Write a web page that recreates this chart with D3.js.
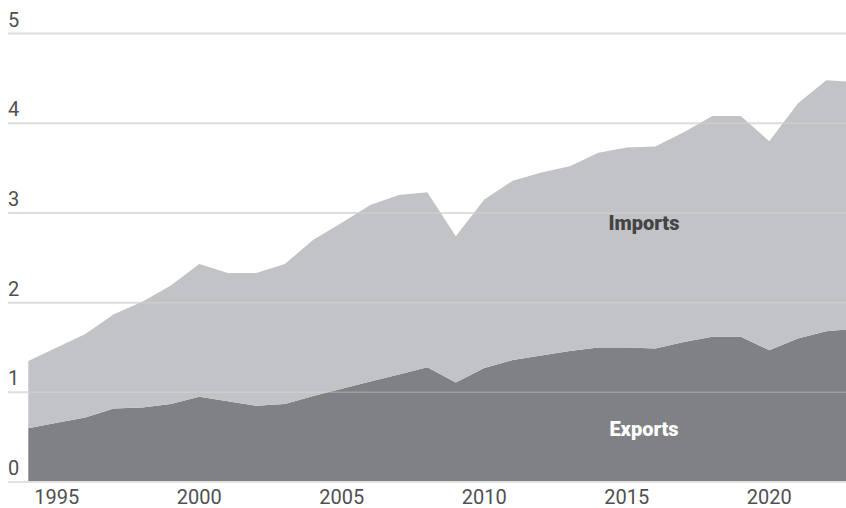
<!DOCTYPE html>
<html>
  <head>
    <meta charset="utf-8">
    <title>Exports and imports</title>
    <script src="https://d3js.org/d3.v7.min.js"></script>
    <style>
      body { margin: 0; background: #fff; }
      text { font-family: Roboto, "Liberation Sans", sans-serif; }
    </style>
  </head>
  <body>
    <script>
      var width = 846;
      var height = 508;

      // data
      var years = d3.range(1994, 2024);
      var exports = [0.60, 0.66, 0.72, 0.82, 0.83, 0.87, 0.95, 0.90, 0.85, 0.87,
                     0.96, 1.04, 1.12, 1.20, 1.28, 1.11, 1.27, 1.36, 1.41, 1.46,
                     1.50, 1.50, 1.49, 1.56, 1.62, 1.62, 1.47, 1.60, 1.68, 1.71];
      var imports = [0.75, 0.84, 0.93, 1.05, 1.18, 1.32, 1.48, 1.43, 1.48, 1.56,
                     1.74, 1.85, 1.97, 2.00, 1.95, 1.63, 1.88, 2.00, 2.04, 2.06,
                     2.17, 2.23, 2.25, 2.34, 2.46, 2.46, 2.33, 2.62, 2.80, 2.75];
      var yTicks = [0, 1, 2, 3, 4, 5];
      var xTicks = [1995, 2000, 2005, 2010, 2015, 2020];

      var svg = d3.select("body").append("svg")
        .attr("width", width).attr("height", height);

      var xScale = d3.scaleLinear()
        .domain([1994, 2023])
        .range([28.3, 854.8]);

      var yScale = d3.scaleLinear()
        .domain([0, 5])
        .range([482, 33.6]);

      var rows = years.map((y, i) => ({year: y, exports: exports[i], imports: imports[i]}));
      var stack = d3.stack().keys(["exports", "imports"]);
      var series = stack(rows);
      var colors = {exports: "#808184", imports: "#c2c3c6"};

      // gridlines under the areas
      svg.append("g")
        .selectAll("line")
        .data(yTicks)
        .enter()
        .append("line")
        .attr("x1", 8).attr("x2", width)
        .attr("y1", (d) => yScale(d)).attr("y2", (d) => yScale(d))
        .attr("stroke", "#dcdcdc")
        .attr("stroke-width", 2);

      var area = d3.area()
        .x((d) => xScale(d.data.year))
        .y0((d) => yScale(d[0]))
        .y1((d) => yScale(d[1]));

      svg.append("g")
        .selectAll("path")
        .data(series)
        .enter()
        .append("path")
        .attr("d", area)
        .attr("fill", (d) => colors[d.key]);

      // faint gridlines over the areas
      svg.append("g")
        .selectAll("line")
        .data(yTicks)
        .enter()
        .append("line")
        .attr("x1", 8).attr("x2", width)
        .attr("y1", (d) => yScale(d)).attr("y2", (d) => yScale(d))
        .attr("stroke", (d) => d == 0 ? "#e2e2e2" : "#e6e6e6")
        .attr("stroke-opacity", (d) => d == 0 ? 1 : 0.3)
        .attr("stroke-width", (d) => d == 0 ? 2 : 1.5);

      // y labels
      svg.append("g")
        .selectAll("text")
        .data(yTicks)
        .enter()
        .append("text")
        .attr("x", 8)
        .attr("y", (d) => yScale(d) - 7)
        .attr("fill", "#505050")
        .attr("font-size", 20)
        .text((d) => d);

      // x labels
      svg.append("g")
        .selectAll("text")
        .data(xTicks)
        .enter()
        .append("text")
        .attr("x", (d) => xScale(d))
        .attr("y", 504)
        .attr("text-anchor", "middle")
        .attr("fill", "#505050")
        .attr("font-size", 20)
        .text((d) => d);

      svg.append("text")
        .attr("x", 644).attr("y", 230)
        .attr("text-anchor", "middle")
        .attr("font-size", 20).attr("font-weight", 900)
        .attr("fill", "#444")
        .text("Imports");

      svg.append("text")
        .attr("x", 644).attr("y", 436)
        .attr("text-anchor", "middle")
        .attr("font-size", 20).attr("font-weight", 900)
        .attr("fill", "#fff")
        .text("Exports");
    </script>
  </body>
</html>
